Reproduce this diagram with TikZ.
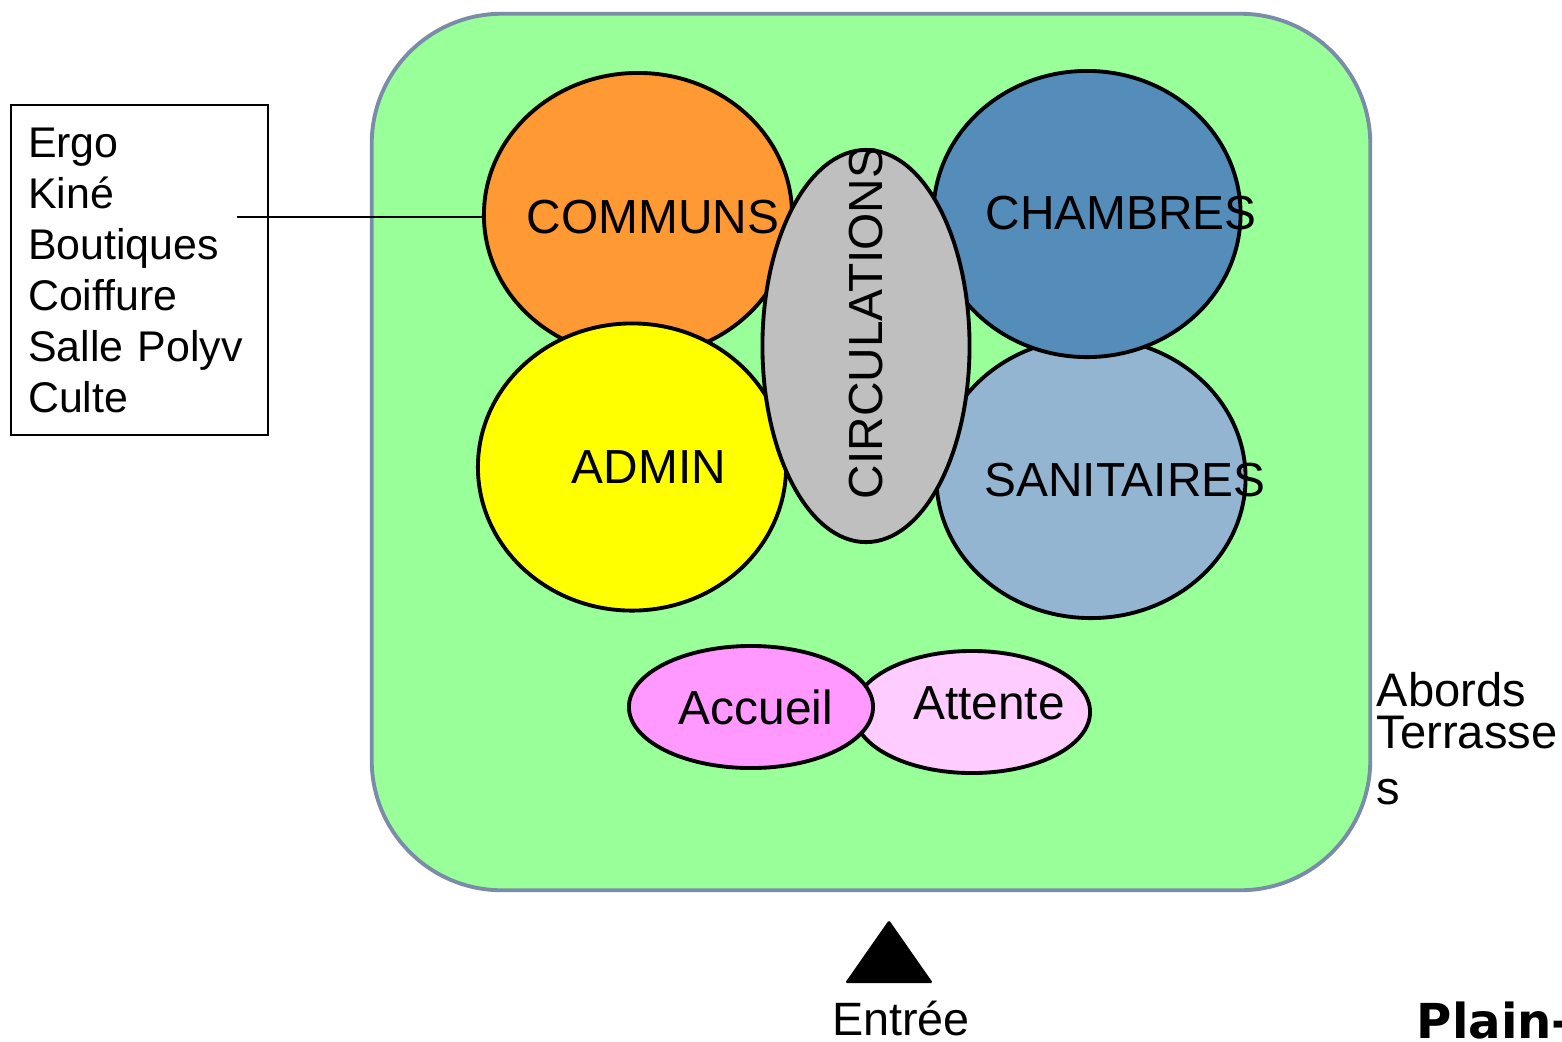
\documentclass[tikz,border=0pt]{standalone}
\usepackage{fontspec}
\setmainfont{Liberation Sans}
\newfontfamily\grasfont{DejaVu Sans Bold}
\usepackage{tikz}
\usetikzlibrary{shapes.geometric}
\definecolor{fondvert}{RGB}{153,255,153}
\definecolor{bordsite}{RGB}{122,140,168}
\definecolor{orangecom}{RGB}{255,153,51}
\definecolor{bleuch}{RGB}{84,140,186}
\definecolor{bleusan}{RGB}{148,181,210}
\definecolor{griscirc}{RGB}{191,191,191}
\definecolor{jauneadm}{RGB}{255,255,0}
\definecolor{roseacc}{RGB}{255,153,255}
\definecolor{roseatt}{RGB}{255,204,255}
\tikzset{
x=0.01cm, y=-0.01cm, % coordinates in pixels of the plan
zone/.style={ellipse, draw=black, line width=1.1pt, inner sep=0pt}, % every room group
every label/.style={font=\fontsize{13.6}{16}\selectfont, inner sep=0pt}, % names inside the zones
}

\begin{document}
\begin{tikzpicture}
	\useasboundingbox (0,0) rectangle (1562,1041);
	\node[draw=bordsite, fill=fondvert, line width=1.1pt, rounded corners=1.3cm,
		minimum width=9.98cm, minimum height=8.76cm] (site) at (871,452) {};
	\node[zone, fill=roseatt, minimum width=2.36cm, minimum height=1.22cm,
		label={[xshift=0.17cm, yshift=0.09cm]center:Attente}] (attente) at (972,712) {};
	\node[zone, fill=roseacc, minimum width=2.44cm, minimum height=1.22cm,
		label={[xshift=0.05cm]center:Accueil}] (accueil) at (751,707) {};
	\node[zone, fill=orangecom, minimum width=3.08cm, minimum height=2.84cm,
		label={[xshift=0.15cm, yshift=-0.02cm]center:COMMUNS}] (communs) at (638,215) {};
	\node[zone, fill=jauneadm, minimum width=3.08cm, minimum height=2.87cm,
		label={[xshift=0.17cm]center:ADMIN}] (admin) at (632,467) {};
	\node[zone, fill=bleusan, minimum width=3.09cm, minimum height=2.80cm,
		label={[xshift=0.34cm, yshift=-0.02cm]center:SANITAIRES}] (sanitaires) at (1091,478) {};
	\node[zone, fill=bleuch, minimum width=3.07cm, minimum height=2.86cm,
		label={[xshift=0.34cm, yshift=0.01cm]center:CHAMBRES}] (chambres) at (1087,214) {};
	\node[zone, fill=griscirc, minimum width=2.07cm, minimum height=3.92cm,
		label={[yshift=0.23cm, rotate=90]center:CIRCULATIONS}] (circulations) at (866,346) {};
	% liste des communs
	\node[draw=black, line width=0.6pt, anchor=north west, minimum width=2.57cm, minimum height=3.30cm,
		inner xsep=0.17cm, text width=2.23cm, align=left,
		font=\fontsize{12.2}{14.5}\selectfont] (liste) at (10,104)
		{Ergo\\Kiné\\Boutiques\\Coiffure\\Salle Polyv\\Culte};
	\coordinate (lien) at (237,217);
	\draw[line width=0.65pt] (lien) -- (lien -| communs.west);
	\node[anchor=north west, inner sep=0pt, align=left,
		font=\fontsize{13.4}{11.7}\selectfont] (abords) at (1376,672) {Abords\\Terrasse\\[4.3pt]s};
	% entree
	\fill[rounded corners=0.5pt] (845,983) -- (889,920) -- (933,983) -- cycle;
	\node[anchor=base, inner sep=0pt, font=\fontsize{13.3}{16}\selectfont] (entree) at (901,1035) {Entrée};
	\node[anchor=base west, inner sep=0pt, font=\grasfont\fontsize{13.7}{16}\selectfont] (plain) at (1416,1038) {Plain-};
\end{tikzpicture}
\end{document}
